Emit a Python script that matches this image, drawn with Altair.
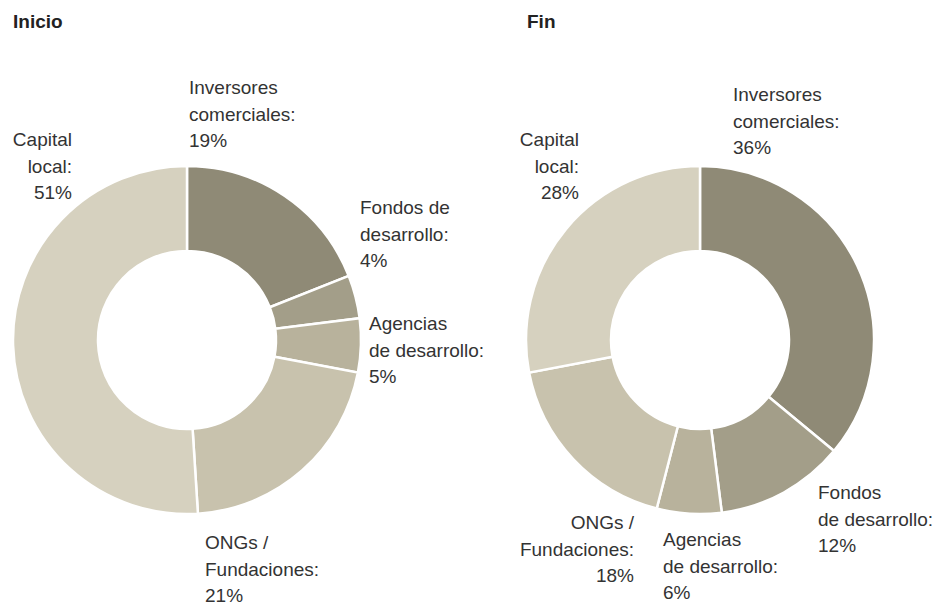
import altair as alt
import pandas as pd

# ---- data ----
categories = ["Inversores comerciales", "Fondos de desarrollo", "Agencias de desarrollo",
              "ONGs / Fundaciones", "Capital local"]
inicio_values = [19, 4, 5, 21, 51]
fin_values = [36, 12, 6, 18, 28]
colors = ["#8f8a76", "#a39e89", "#b8b29c", "#c8c2ad", "#d6d1bf"]

inicio_labels = ["Inversores\ncomerciales:\n19%", "Fondos de\ndesarrollo:\n4%",
                 "Agencias\nde desarrollo:\n5%", "ONGs /\nFundaciones:\n21%",
                 "Capital\nlocal:\n51%"]
fin_labels = ["Inversores\ncomerciales:\n36%", "Fondos\nde desarrollo:\n12%",
              "Agencias\nde desarrollo:\n6%", "ONGs /\nFundaciones:\n18%",
              "Capital\nlocal:\n28%"]

# ---- layout (pixels, chart coordinates; y = first line) ----
centers = {"Inicio": (179, 332), "Fin": (692, 332)}
title_pos = {"Inicio": (5, 14), "Fin": (519, 14)}
inicio_label_xy = [(181, 80), (352, 200), (361, 316), (197, 535), (64, 132)]
inicio_align = ["left", "left", "left", "left", "right"]
fin_label_xy = [(725, 87), (810, 485), (655, 532), (626, 515), (571, 132)]
fin_align = ["left", "left", "left", "right", "right"]

FONT = "Liberation Sans"
color_scale = alt.Scale(domain=categories, range=colors)


def donut(name, values, labels, label_xy, aligns):
    cx, cy = centers[name]
    df = pd.DataFrame({"categoria": categories, "valor": values,
                       "orden": list(range(len(categories)))})
    arc = alt.Chart(df).mark_arc(outerRadius=174, innerRadius=89,
                                 stroke="white", strokeWidth=2.5).encode(
        theta=alt.Theta("valor:Q", stack=True),
        color=alt.Color("categoria:N", scale=color_scale, legend=None),
        order=alt.Order("orden:Q"),
        x=alt.value(cx), y=alt.value(cy),
    )
    layers = [arc]
    for align in ["left", "right"]:
        rows = [(labels[i], label_xy[i][0], label_xy[i][1])
                for i in range(len(labels)) if aligns[i] == align]
        ldf = pd.DataFrame(rows, columns=["texto", "lx", "ly"])
        layers.append(alt.Chart(ldf).mark_text(
            align=align, baseline="middle", lineBreak="\n", lineHeight=26.5,
            font=FONT, fontSize=19, color="#333333").encode(
            x=alt.X("lx:Q", scale=None), y=alt.Y("ly:Q", scale=None),
            text="texto:N"))
    tx, ty = title_pos[name]
    tdf = pd.DataFrame({"t": [name], "tx": [tx], "ty": [ty]})
    layers.append(alt.Chart(tdf).mark_text(
        align="left", baseline="middle", font=FONT, fontSize=19,
        fontWeight="bold", color="#222222").encode(
        x=alt.X("tx:Q", scale=None), y=alt.Y("ty:Q", scale=None), text="t:N"))
    return layers


layers = donut("Inicio", inicio_values, inicio_labels, inicio_label_xy, inicio_align) + \
    donut("Fin", fin_values, fin_labels, fin_label_xy, fin_align)

chart = alt.layer(*layers).resolve_scale(theta="independent").properties(
    width=928, height=597, padding=0, autosize="none"
).configure_view(stroke=None)

chart.save("out.html", embed_options={"renderer": "svg", "actions": False})
